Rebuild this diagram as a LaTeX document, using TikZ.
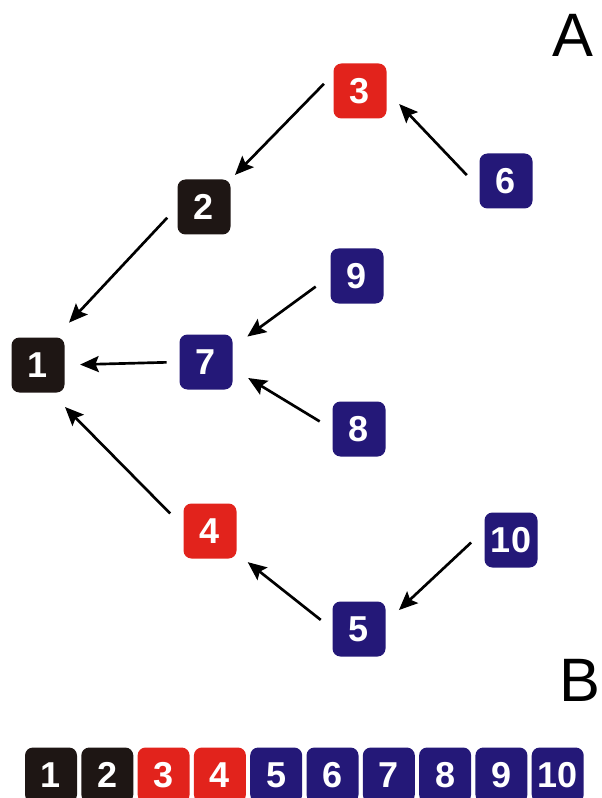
\documentclass[tikz,border=0pt]{standalone}
\usepackage{fontspec}
\setmainfont{Liberation Sans}
\usetikzlibrary{arrows.meta}
\definecolor{boxblack}{RGB}{30,22,20}
\definecolor{boxred}{RGB}{226,35,28}
\definecolor{boxblue}{RGB}{36,24,120}
\begin{document}
\begin{tikzpicture}[x=0.75pt,y=-0.75pt,
    box/.style={rounded corners=6pt, inner sep=0pt, minimum width=39.75pt, minimum height=41.25pt,
        text=white, font=\fontsize{27}{27}\selectfont\bfseries},
    rowbox/.style={box, minimum width=39pt},
    arr/.style={line width=2pt, -{Stealth[length=14pt,width=12pt,inset=2.5pt]},
        shorten <=13.5pt, shorten >=13.5pt},
    panel/.style={inner sep=0pt, font=\fontsize{46}{46}\selectfont}]
    \useasboundingbox (0,0) rectangle (602,798);
    \node[box, fill=boxblack] (n1) at (38,365) {1};
    \node[box, fill=boxblack] (n2) at (204,207) {2};
    \node[box, fill=boxred] (n3) at (360,91) {3};
    \node[box, fill=boxred] (n4) at (210,531) {4};
    \node[box, fill=boxblue] (n5) at (359,629) {5};
    \node[box, fill=boxblue] (n6) at (506,181) {6};
    \node[box, fill=boxblue] (n7) at (206,362) {7};
    \node[box, fill=boxblue] (n8) at (359,429) {8};
    \node[box, fill=boxblue] (n9) at (357,276) {9};
    \node[box, fill=boxblue] (n10) at (511,540) {10};
    \node[panel] (lblA) at (573,35) {A};
    \node[panel] (lblB) at (580,680) {B};
    \draw[arr, shorten <=11pt, shorten >=15pt] (n2.west) -- (n1.58);
    \draw[arr, shorten <=10pt, shorten >=4.5pt] (n3.148) -- (n2.north east);
    \draw[arr] (n6.195) -- (n3.east);
    \draw[arr] (n9.west) -- (n7.29);
    \draw[arr, shorten <=9.5pt, shorten >=11.5pt] (n7.west) -- (n1.east);
    \draw[arr, shorten <=11pt] (n8.west) -- (n7.-14);
    \draw[arr, shorten <=14pt, shorten >=15pt] (n4.171) -- (n1.-65);
    \draw[arr, shorten <=11pt, shorten >=10.5pt] (n5.west) -- (n4.-40);
    \draw[arr] (n10.160) -- (n5.14);
    \foreach \i/\c in {1/boxblack,2/boxblack,3/boxred,4/boxred,5/boxblue,
                       6/boxblue,7/boxblue,8/boxblue,9/boxblue,10/boxblue}
        \node[rowbox, fill=\c] (r\i) at ({51+56.3*(\i-1)},775) {\i};
\end{tikzpicture}
\end{document}
